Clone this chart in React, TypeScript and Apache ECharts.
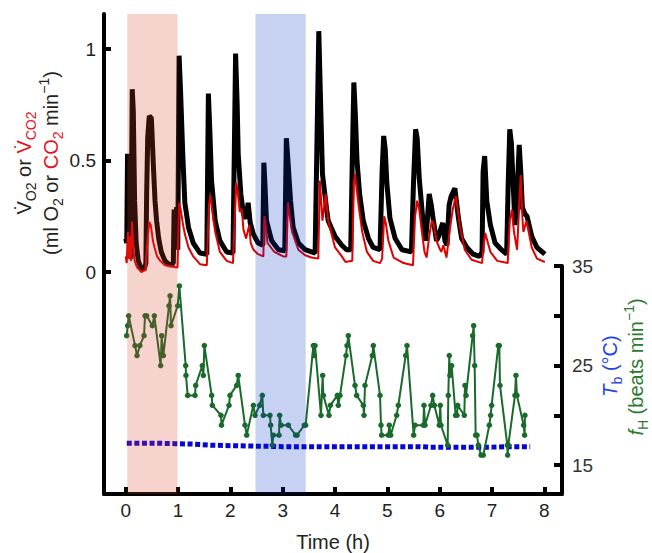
import React, { useEffect, useRef } from 'react';
import * as echarts from 'echarts';

// time (h), ml O2 min-1
const vo2: [number, number][] = [
  [0.0, 0.15], [0.02, 0.13], [0.035, 0.53], [0.055, 0.4], [0.075, 0.08], [0.1, 0.06],
  [0.125, 0.82], [0.145, 0.72], [0.17, 0.32], [0.2, 0.13], [0.24, 0.05], [0.29, 0.02],
  [0.35, 0.01], [0.385, 0.04], [0.4, 0.35], [0.42, 0.6], [0.45, 0.7], [0.49, 0.69],
  [0.53, 0.47], [0.56, 0.32], [0.59, 0.23], [0.63, 0.15], [0.68, 0.09], [0.75, 0.05],
  [0.85, 0.03], [0.91, 0.04], [0.925, 0.28], [0.95, 0.25], [0.975, 0.29], [0.995, 0.1],
  [1.02, 0.97], [1.05, 0.8], [1.09, 0.53], [1.13, 0.31], [1.2, 0.2], [1.29, 0.13],
  [1.42, 0.085], [1.55, 0.08], [1.58, 0.8], [1.61, 0.62], [1.64, 0.41], [1.71, 0.23],
  [1.8, 0.14], [1.93, 0.09], [2.05, 0.085], [2.1, 0.98], [2.13, 0.75], [2.15, 0.53],
  [2.2, 0.35], [2.25, 0.26], [2.3, 0.24], [2.34, 0.31], [2.38, 0.22], [2.44, 0.17],
  [2.53, 0.13], [2.62, 0.12], [2.64, 0.49], [2.66, 0.4], [2.69, 0.23], [2.79, 0.14],
  [2.92, 0.1], [3.04, 0.095], [3.07, 0.6], [3.1, 0.5], [3.15, 0.32], [3.2, 0.2],
  [3.3, 0.13], [3.43, 0.1], [3.62, 0.085], [3.69, 1.08], [3.72, 0.8], [3.76, 0.44],
  [3.81, 0.34], [3.84, 0.28], [3.87, 0.23], [4.0, 0.16], [4.13, 0.12], [4.22, 0.1],
  [4.3, 0.1], [4.33, 0.5], [4.36, 0.85], [4.39, 0.7], [4.42, 0.5], [4.47, 0.35],
  [4.54, 0.23], [4.64, 0.15], [4.73, 0.11], [4.86, 0.1], [4.9, 0.45], [4.93, 0.61],
  [4.96, 0.55], [4.99, 0.4], [5.05, 0.24], [5.15, 0.15], [5.28, 0.1], [5.46, 0.09],
  [5.5, 0.4], [5.54, 0.64], [5.57, 0.6], [5.61, 0.42], [5.68, 0.23], [5.73, 0.14],
  [5.76, 0.22], [5.8, 0.35], [5.84, 0.3], [5.88, 0.23], [5.94, 0.14], [5.98, 0.16],
  [6.03, 0.2], [6.06, 0.22], [6.1, 0.14], [6.14, 0.12], [6.18, 0.3], [6.22, 0.34],
  [6.29, 0.375], [6.36, 0.24], [6.42, 0.15], [6.52, 0.11], [6.64, 0.08], [6.76, 0.07],
  [6.81, 0.09], [6.83, 0.45], [6.86, 0.52], [6.9, 0.32], [6.97, 0.21], [7.06, 0.13],
  [7.18, 0.1], [7.28, 0.08], [7.31, 0.4], [7.34, 0.64], [7.37, 0.58], [7.44, 0.21],
  [7.48, 0.35], [7.52, 0.57], [7.55, 0.45], [7.58, 0.29], [7.63, 0.26], [7.67, 0.25],
  [7.76, 0.16], [7.86, 0.11], [8.01, 0.08],
];

// time (h), ml CO2 min-1
const vco2: [number, number][] = [
  [0.0, 0.07], [0.02, 0.04], [0.04, 0.18], [0.06, 0.06], [0.085, 0.16], [0.1, 0.05],
  [0.12, 0.225], [0.14, 0.13], [0.17, 0.05], [0.22, 0.02], [0.3, 0.0], [0.38, 0.01],
  [0.41, 0.12], [0.45, 0.225], [0.48, 0.21], [0.52, 0.14], [0.55, 0.11], [0.6, 0.07],
  [0.66, 0.05], [0.75, 0.03], [0.87, 0.025], [0.99, 0.02], [1.02, 0.31], [1.05, 0.28],
  [1.09, 0.22], [1.13, 0.17], [1.2, 0.11], [1.29, 0.07], [1.42, 0.035], [1.55, 0.03],
  [1.59, 0.3], [1.62, 0.345], [1.65, 0.28], [1.71, 0.18], [1.8, 0.09], [1.93, 0.05],
  [2.05, 0.04], [2.11, 0.4], [2.13, 0.38], [2.18, 0.27], [2.22, 0.28], [2.25, 0.19],
  [2.3, 0.15], [2.36, 0.21], [2.39, 0.13], [2.44, 0.1], [2.53, 0.08], [2.63, 0.07],
  [2.65, 0.25], [2.68, 0.2], [2.71, 0.13], [2.84, 0.09], [3.01, 0.07], [3.07, 0.07],
  [3.1, 0.31], [3.13, 0.26], [3.18, 0.18], [3.3, 0.1], [3.43, 0.075], [3.55, 0.065],
  [3.68, 0.06], [3.71, 0.41], [3.76, 0.23], [3.82, 0.35], [3.87, 0.23], [4.0, 0.11],
  [4.13, 0.07], [4.2, 0.045], [4.33, 0.05], [4.36, 0.4], [4.38, 0.44], [4.41, 0.38],
  [4.45, 0.3], [4.52, 0.18], [4.61, 0.09], [4.73, 0.05], [4.86, 0.04], [4.9, 0.06],
  [4.94, 0.25], [4.97, 0.22], [5.02, 0.14], [5.12, 0.065], [5.31, 0.04], [5.49, 0.03],
  [5.53, 0.25], [5.57, 0.32], [5.61, 0.28], [5.65, 0.2], [5.71, 0.09], [5.75, 0.065],
  [5.8, 0.16], [5.85, 0.23], [5.88, 0.22], [5.94, 0.14], [5.99, 0.11], [6.03, 0.09],
  [6.07, 0.12], [6.13, 0.065], [6.2, 0.2], [6.25, 0.28], [6.31, 0.34], [6.39, 0.2],
  [6.48, 0.1], [6.61, 0.055], [6.81, 0.04], [6.85, 0.14], [6.87, 0.175], [6.97, 0.09],
  [7.1, 0.05], [7.3, 0.04], [7.34, 0.23], [7.38, 0.28], [7.42, 0.18], [7.48, 0.1],
  [7.52, 0.3], [7.55, 0.435], [7.58, 0.25], [7.6, 0.18], [7.66, 0.23], [7.76, 0.11],
  [7.86, 0.06], [8.01, 0.045],
];

// time (h), beats min-1
const heartRate: [number, number][] = [
  [0.018, 28], [0.038, 29], [0.057, 30], [0.178, 27], [0.216, 26], [0.27, 27], [0.35, 28],
  [0.369, 30], [0.4, 30], [0.509, 29], [0.547, 30], [0.668, 25], [0.687, 28], [0.719, 26],
  [0.827, 31], [0.847, 32], [0.866, 29], [0.993, 31], [1.025, 33], [1.146, 25], [1.152, 24],
  [1.184, 22], [1.324, 22], [1.337, 23], [1.464, 25], [1.484, 24], [1.503, 27], [1.643, 22],
  [1.656, 21], [1.821, 20], [1.83, 19], [1.974, 21], [1.993, 22], [2.12, 23], [2.15, 24],
  [2.28, 19], [2.312, 18], [2.439, 21], [2.471, 20], [2.56, 21], [2.61, 22], [2.63, 20],
  [2.757, 20], [2.77, 19], [2.802, 17], [2.821, 18], [2.93, 18], [2.942, 20], [2.968, 19],
  [3.108, 19], [3.248, 18], [3.274, 18], [3.414, 19], [3.439, 19], [3.586, 27], [3.605, 26],
  [3.618, 27], [3.732, 20], [3.764, 24], [3.777, 22], [3.885, 20], [3.911, 21], [4.044, 22],
  [4.063, 21], [4.095, 22], [4.21, 26], [4.229, 27], [4.254, 28], [4.382, 23], [4.414, 22],
  [4.541, 21], [4.554, 20], [4.573, 23], [4.713, 26], [4.732, 27], [4.86, 22], [4.879, 19],
  [4.891, 18], [5.019, 18], [5.038, 19], [5.063, 18], [5.178, 20], [5.21, 21], [5.35, 26],
  [5.376, 27], [5.503, 18], [5.528, 19], [5.688, 19], [5.7, 21], [5.72, 19], [5.834, 21],
  [5.866, 22], [5.898, 21], [5.993, 19], [6.012, 21], [6.025, 19], [6.153, 17], [6.165, 22],
  [6.184, 26], [6.197, 24], [6.229, 25], [6.305, 20], [6.331, 20], [6.344, 21], [6.471, 20],
  [6.484, 23], [6.503, 22], [6.63, 28], [6.65, 29], [6.669, 25], [6.688, 18], [6.713, 18],
  [6.739, 17], [6.79, 16], [6.834, 16], [6.949, 19], [6.974, 20], [6.993, 21], [7.121, 27],
  [7.14, 27], [7.153, 23], [7.293, 17], [7.299, 16], [7.312, 17], [7.439, 22], [7.458, 24],
  [7.477, 22], [7.605, 19], [7.624, 18], [7.63, 20],
];

// time (h), °C
const bodyTemp: [number, number][] = [
  [0.02, 17.2], [0.5, 17.2], [0.95, 17.15], [1.3, 17.1], [1.6, 17.0], [2.0, 16.95],
  [2.5, 16.9], [3.0, 16.85], [4.0, 16.85], [5.0, 16.85], [5.6, 16.85], [5.8, 16.8],
  [6.5, 16.8], [7.0, 16.8], [7.3, 16.85], [7.73, 16.85],
];

const coldPeriod = [0.03, 0.99];
const warmPeriod = [2.48, 3.44];
const timeTicks = [0, 1, 2, 3, 4, 5, 6, 7, 8];
const flowTicks = [0, 0.5, 1];
const rateTicks = [15, 20, 25, 30, 35];
const rateLabels = [15, 25, 35];

const FONT = '"Liberation Sans", Arial, Helvetica, sans-serif';
const INK = '#222';
const RED = '#e8101a';
const BLUE = '#2142e6';
const GREEN = '#2b7a30';

const App: React.FC = () => {
  const chartRef = useRef<HTMLDivElement>(null);

  useEffect(() => {
    if (!chartRef.current) return;
    const chart = echarts.init(chartRef.current, undefined, { renderer: 'svg' });

    const xRange = { min: -0.415, max: 8.338 };
    const main = (fill: string) => ({ fontSize: 20, fill, lineHeight: 28, fontFamily: FONT });
    const sub = (fill: string) => ({ fontSize: 14, fill, lineHeight: 15, verticalAlign: 'bottom', fontFamily: FONT });
    const sup = (fill: string) => ({ fontSize: 14, fill, lineHeight: 15, verticalAlign: 'top', fontFamily: FONT });

    const option: echarts.EChartsOption = {
      animation: false,
      grid: [
        { left: 104, right: 90, top: 14, bottom: 59 },
        { left: 104, right: 90, top: 266, bottom: 59 },
      ],
      xAxis: [
        { type: 'value', gridIndex: 0, ...xRange, show: false },
        {
          type: 'value',
          gridIndex: 1,
          ...xRange,
          axisLine: { onZero: false, lineStyle: { color: '#000', width: 4 } },
          axisTick: { inside: true, length: 7, customValues: timeTicks, lineStyle: { color: '#000', width: 4 } },
          axisLabel: { customValues: timeTicks, fontSize: 19, color: INK, margin: 7, fontFamily: FONT },
          splitLine: { show: false },
          name: 'Time (h)',
          nameLocation: 'middle',
          nameGap: 38,
          nameTextStyle: { fontSize: 20, color: INK, fontFamily: FONT },
        },
      ],
      yAxis: [
        {
          type: 'value',
          gridIndex: 0,
          position: 'left',
          min: -0.9955,
          max: 1.157,
          axisLine: { show: true, onZero: false, lineStyle: { color: '#000', width: 4 } },
          axisTick: { show: true, inside: true, length: 7, customValues: flowTicks, lineStyle: { color: '#000', width: 4 } },
          axisLabel: { customValues: flowTicks, fontSize: 19, color: INK, margin: 8, fontFamily: FONT },
          splitLine: { show: false },
        },
        {
          type: 'value',
          gridIndex: 1,
          position: 'right',
          min: 12.09,
          max: 35,
          axisLine: { show: true, onZero: false, lineStyle: { color: '#000', width: 4 } },
          axisTick: { show: true, inside: true, length: 8, customValues: rateTicks, lineStyle: { color: '#000', width: 4 } },
          axisLabel: { customValues: rateLabels, fontSize: 19, color: '#333', margin: 10, fontFamily: FONT },
          splitLine: { show: false },
        },
      ],
      graphic: [
        {
          type: 'text',
          x: 24,
          y: 163,
          rotation: Math.PI / 2,
          style: {
            text: '{k|V\u0307}{ks|O2}{k| or }{r|V\u0307}{rs|CO2}',
            align: 'center',
            verticalAlign: 'middle',
            rich: { k: main(INK), ks: sub(INK), r: main(RED), rs: sub(RED) },
          },
        },
        {
          type: 'text',
          x: 51,
          y: 163,
          rotation: Math.PI / 2,
          style: {
            text: '{k|(ml O}{ks|2}{k| or }{r|CO}{rs|2}{k| min}{kp|\u22121}{k|)}',
            align: 'center',
            verticalAlign: 'middle',
            rich: { k: main(INK), ks: sub(INK), r: main(RED), rs: sub(RED), kp: sup(INK) },
          },
        },
        {
          type: 'text',
          x: 610,
          y: 366,
          rotation: Math.PI / 2,
          style: {
            text: '{ti|T}{bs|b}{b| (°C)}',
            align: 'center',
            verticalAlign: 'middle',
            rich: { ti: { ...main(BLUE), fontStyle: 'italic' }, bs: sub(BLUE), b: main(BLUE) },
          },
        },
        {
          type: 'text',
          x: 636,
          y: 367,
          rotation: Math.PI / 2,
          style: {
            text: '{gi|f}{gs|H}{g| (beats min}{gp|\u22121}{g|)}',
            align: 'center',
            verticalAlign: 'middle',
            rich: { gi: { ...main(GREEN), fontStyle: 'italic' }, gs: sub(GREEN), g: main(GREEN), gp: sup(GREEN) },
          },
        },
      ],
      series: [
        {
          name: 'VO2',
          type: 'line',
          xAxisIndex: 0,
          yAxisIndex: 0,
          data: vo2,
          showSymbol: false,
          lineStyle: { color: '#000', width: 5 },
          z: 2,
        },
        {
          name: 'VCO2',
          type: 'line',
          xAxisIndex: 0,
          yAxisIndex: 0,
          data: vco2,
          showSymbol: false,
          lineStyle: { color: '#e00000', width: 2 },
          z: 3,
        },
        {
          name: 'Tb',
          type: 'line',
          xAxisIndex: 1,
          yAxisIndex: 1,
          data: bodyTemp,
          showSymbol: false,
          lineStyle: { color: '#0505d5', width: 5, type: [5, 2.6], cap: 'butt' },
          z: 2,
        },
        {
          name: 'fH',
          type: 'line',
          xAxisIndex: 1,
          yAxisIndex: 1,
          data: heartRate,
          symbol: 'circle',
          symbolSize: 5.5,
          showAllSymbol: true,
          itemStyle: { color: '#1a6a2c' },
          lineStyle: { color: '#1a6a2c', width: 2 },
          z: 3,
        },
        {
          name: 'periods',
          type: 'line',
          xAxisIndex: 0,
          yAxisIndex: 0,
          data: [],
          silent: true,
          z: 10,
          markArea: {
            silent: true,
            z: 10,
            data: [
              [{ xAxis: coldPeriod[0], itemStyle: { color: 'rgba(222,64,39,0.23)' } }, { xAxis: coldPeriod[1] }],
              [{ xAxis: warmPeriod[0], itemStyle: { color: 'rgba(0,46,194,0.22)' } }, { xAxis: warmPeriod[1] }],
            ],
          },
        },
      ],
    };

    chart.setOption(option);
    return () => {
      chart.dispose();
    };
  }, []);

  return (
    <div
      ref={chartRef}
      style={{ position: 'fixed', left: 0, top: 0, width: 652, height: 553, background: '#fff' }}
    />
  );
};

export default App;
